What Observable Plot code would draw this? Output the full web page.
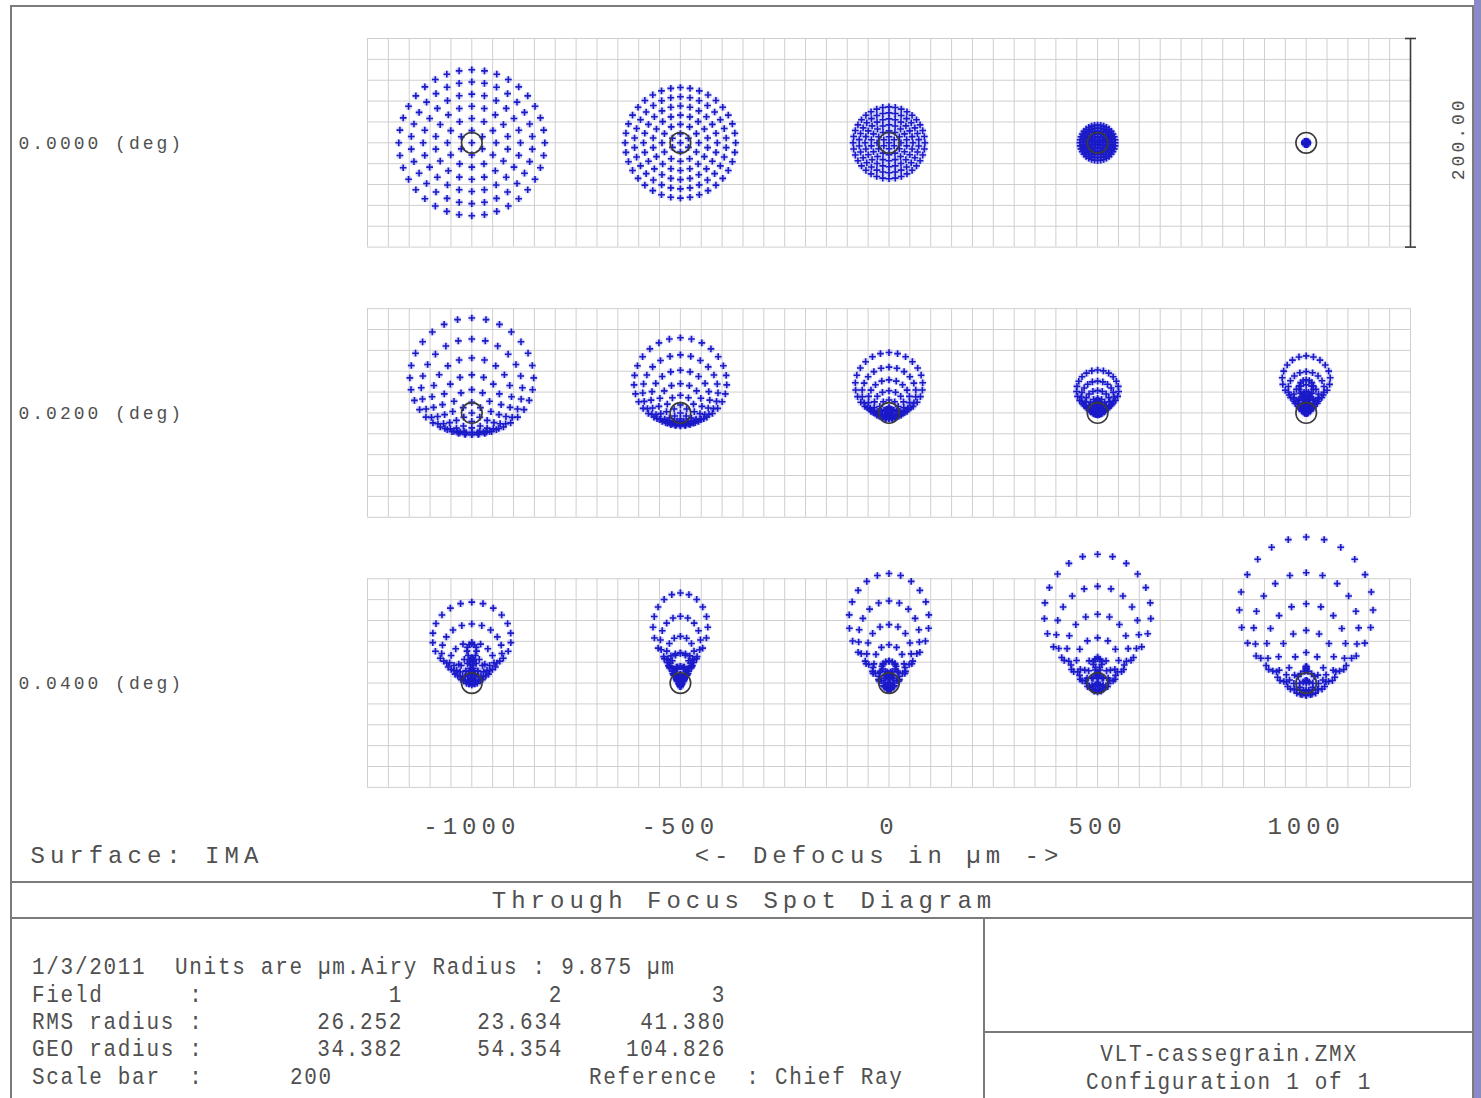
<!DOCTYPE html>
<html>
<head>
<meta charset="utf-8">
<script src="https://cdn.jsdelivr.net/npm/d3@7"></script>
<script src="https://cdn.jsdelivr.net/npm/@observablehq/plot@0.6"></script>
<style>
html,body{margin:0;padding:0;background:#fff;overflow:hidden;}
#page{position:relative;width:1481px;height:1098px;overflow:hidden;background:#fff;}
#chart{position:absolute;left:0;top:0;}
.ln{position:absolute;background:#7b7b7b;}
.t{position:absolute;font-family:"Liberation Mono",monospace;color:#505050;white-space:pre;line-height:1;}
.big{font-size:24px;letter-spacing:5px;}
.info{font-size:21px;letter-spacing:1.7px;}
#chart svg [aria-label^="x-axis"] text{letter-spacing:5px;}
</style>
</head>
<body>
<div id="page">
  <div id="chart"></div>
</div>
<script>
// ---------------- data ----------------
const fieldLabels = ["0.0000 (deg)", "0.0200 (deg)", "0.0400 (deg)"];
const defocus = [-1000, -500, 0, 500, 1000];           // µm
const xAxisLabel = "<- Defocus in µm ->";
const surfaceLabel = "Surface: IMA";
const titleText = "Through Focus Spot Diagram";
const scaleBar = 200;                                   // µm
const airyRadius = 9.875;                               // µm
const pupilRings = 6;                                   // hexapolar ray rings
// per spot (rows = fields, cols = defocus): spot extents, µm
const defocusX = [[70, 53, 34.4, 17, 1.5], [55, 40, 27, 14.4, 11.5], [24, 9.6, 22.8, 34.4, 48]];
const defocusY = [[70, 53, 34.4, 17, 1.5], [55, 40, 27, 14.4, 11.5], [20, 28.8, 42, 50, 62]];
const coma     = [[0, 0, 0, 0, 0], [12, 10.7, 10.3, 8.9, 14.4], [19.2, 19.2, 21, 24.5, 26]];
// info table
const infoHeader = "1/3/2011  Units are µm.Airy Radius : 9.875 µm";
const rowLabels = ["Field", "RMS radius", "GEO radius", "Scale bar"];
const fieldNumbers = ["1", "2", "3"];
const rmsRadius = ["26.252", "23.634", "41.380"];
const geoRadius = ["34.382", "54.354", "104.826"];
const referenceText = "Reference  : Chief Ray";
const lensFile = "VLT-cassegrain.ZMX";
const configText = "Configuration 1 of 1";

// ---------------- layout ----------------
const W = 1481, H = 880;
const mL = 367, mR = 71, mT = 38, mB = 93;
const pxPerUm = (W - mL - mR) / 1000;        // each spot box is 200 µm wide, 5 boxes
const xPerUm = 500 / 200;                    // defocus units per µm inside a box
const rowPitch = 259;                        // µm between field rows
const yMin = 100 - (H - mT - mB) / pxPerUm;

// spots and rays (hexapolar pupil sampling)
const spots = [];
const rays = [];
fieldLabels.forEach((f, r) => defocus.forEach((z, c) => {
  spots.push({r, z});
  const Dx = defocusX[r][c], Dy = defocusY[r][c], C = coma[r][c];
  rays.push({r, z, dx: 0, dy: 0});
  for (let k = 1; k <= pupilRings; k++) {
    const rho = k / pupilRings, n = 6 * k;
    for (let j = 0; j < n; j++) {
      const t = 2 * Math.PI * j / n;
      rays.push({r, z,
        dx: Dx * rho * Math.sin(t) + C * rho * rho * Math.sin(2 * t),
        dy: Dy * rho * Math.cos(t) + C * rho * rho * (2 + Math.cos(2 * t))});
    }
  }
}));

// grid (20 µm cells)
const gridXs = d3.range(-1250, 1250 + 1, 20 * xPerUm);
const gridYs = d3.range(-100, 100 + 1, 20);
const gridV = fieldLabels.flatMap((f, r) => gridXs.map(x => ({x, r})));
const gridH = fieldLabels.flatMap((f, r) => gridYs.map(y => ({y: y - r * rowPitch})));

const rayX = d => d.z + d.dx * xPerUm;
const rayY = d => -d.r * rowPitch + d.dy;

const plot = Plot.plot({
  width: W, height: H,
  marginLeft: mL, marginRight: mR, marginTop: mT, marginBottom: mB,
  style: {fontFamily: "'Liberation Mono', monospace", fontSize: "24px", color: "#505050", background: "transparent"},
  x: {domain: [-1250, 1250], ticks: defocus, tickFormat: d => String(d), tickSize: 0, tickPadding: 29, label: null},
  y: {domain: [yMin, 100], axis: null},
  marks: [
    Plot.ruleX(gridV, {x: "x", y1: d => -d.r * rowPitch - 100, y2: d => -d.r * rowPitch + 100, stroke: "#cfcfcf", strokeWidth: 1}),
    Plot.ruleY(gridH, {y: "y", x1: -1250, x2: 1250, stroke: "#cfcfcf", strokeWidth: 1}),
    Plot.dot(rays, {x: rayX, y: rayY, r: 3.6, fill: "#8080f0", fillOpacity: 0.35, stroke: "none"}),
    Plot.dot(rays, {x: rayX, y: rayY, symbol: "plus", r: 2.3, stroke: "#1a1ac8", strokeWidth: 1.6}),
    Plot.dot(spots, {x: "z", y: d => -d.r * rowPitch, r: airyRadius * pxPerUm,
      stroke: "#3a3a3a", strokeWidth: 1.6, fill: "none"}),
    // scale bar
    Plot.ruleX([1250], {y1: -scaleBar / 2, y2: scaleBar / 2, stroke: "#3a3a3a", strokeWidth: 1.6}),
    Plot.ruleY([-scaleBar / 2, scaleBar / 2], {x1: 1250 - 5 / pxPerUm * xPerUm, x2: 1250 + 6 / pxPerUm * xPerUm, stroke: "#3a3a3a", strokeWidth: 1.6}),
    Plot.text([scaleBar], {x: 1250, y: 0, text: d => d.toFixed(2), rotate: -90, dx: 48, dy: -4,
      fontSize: 18, fill: "#505050"}),
    // field labels
    Plot.text(fieldLabels, {y: (d, i) => -i * rowPitch, text: d => d, frameAnchor: "left",
      dx: 18 - mL, textAnchor: "start", fontSize: 18, fill: "#505050"}),
    Plot.text([surfaceLabel], {text: d => d, frameAnchor: "bottom-left", dx: 30 - mL, dy: 75,
      textAnchor: "start", fill: "#505050"}),
    Plot.text([xAxisLabel], {text: d => d, frameAnchor: "bottom", dx: -10, dy: 75,
      fill: "#505050"})
  ]
});
// letter spacing of the wide Zemax-style labels
plot.querySelectorAll("text").forEach(t => {
  const s = t.textContent;
  if (fieldLabels.includes(s) || s === scaleBar.toFixed(2)) t.style.letterSpacing = "3px";
  else if (s === surfaceLabel || s === xAxisLabel) t.style.letterSpacing = "5px";
});
document.getElementById("chart").appendChild(plot);

// ---------------- frame & info panel ----------------
const page = document.getElementById("page");
function line(l, t, w, h, color) {
  const d = document.createElement("div");
  d.className = "ln";
  Object.assign(d.style, {left: l + "px", top: t + "px", width: w + "px", height: h + "px"});
  if (color) d.style.background = color;
  page.appendChild(d);
}
function text(str, x, y, cls, anchor) {
  const d = document.createElement("div");
  d.className = "t " + cls;
  d.textContent = str;
  const tx = anchor === "end" ? "-100%" : anchor === "middle" ? "-50%" : "0";
  Object.assign(d.style, {left: x + "px", top: y + "px", transform: `translate(${tx},-50%)` + (cls === "info" ? " scaleY(1.1)" : "")});
  page.appendChild(d);
}
line(10, 5, 1464, 2);          // top
line(10, 5, 2, 1093);          // left
line(1472, 5, 2, 1093);        // right
line(1474, 0, 7, 1098, "#8a8ac8");
line(10, 881, 1464, 2);
line(10, 917, 1464, 2);
line(983, 917, 2, 181);
line(983, 1031, 491, 2);

text(titleText, 744, 902, "big", "middle");
text(infoHeader, 32, 968, "info");
const lineY = [996, 1023, 1050, 1078];
rowLabels.forEach((lab, i) => text(lab.padEnd(11) + ":", 32, lineY[i], "info"));
const colRight = [403, 563, 726];
fieldNumbers.forEach((v, i) => text(v, colRight[i], lineY[0], "info", "end"));
rmsRadius.forEach((v, i) => text(v, colRight[i], lineY[1], "info", "end"));
geoRadius.forEach((v, i) => text(v, colRight[i], lineY[2], "info", "end"));
text(String(scaleBar), 290, lineY[3], "info");
text(referenceText, 589, lineY[3], "info");
text(lensFile, 1229, 1055, "info", "middle");
text(configText, 1229, 1083, "info", "middle");
</script>
</body>
</html>
